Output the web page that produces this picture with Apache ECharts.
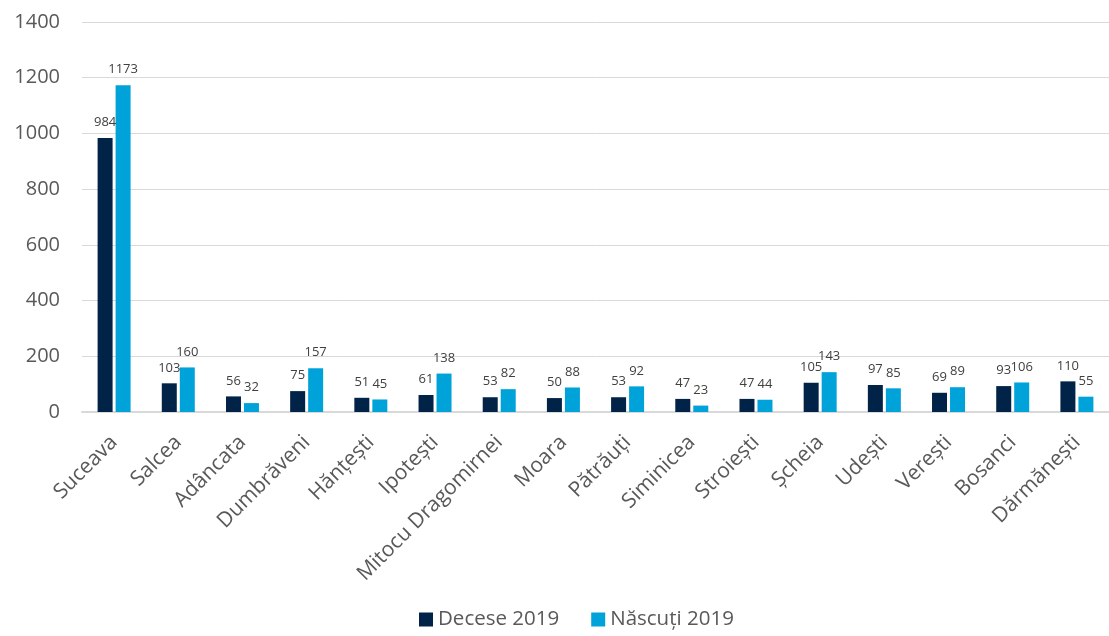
<!DOCTYPE html>
<html><head><meta charset="utf-8">
<script src="https://cdn.jsdelivr.net/npm/echarts@6/dist/echarts.min.js"></script>
<style>html,body{margin:0;padding:0;background:#fff}#c{width:1109px;height:636px}</style>
</head><body><div id="c"></div>
<script>
const categories = ["Suceava","Salcea","Adâncata","Dumbrăveni","Hănțești","Ipotești","Mitocu Dragomirnei","Moara","Pătrăuți","Siminicea","Stroiești","Șcheia","Udești","Verești","Bosanci","Dărmănești"];
const decese = [984,103,56,75,51,61,53,50,53,47,47,105,97,69,93,110];
const nascuti = [1173,160,32,157,45,138,82,88,92,23,44,143,85,89,106,55];
const yTicks = {min:0,max:1400,interval:200};
const chart = echarts.init(document.getElementById('c'));
const font = '"Open Sans", "Noto Sans", sans-serif';
chart.setOption({
  animation:false,
  textStyle:{fontFamily:font},
  grid:{left:82,right:-7,top:22,bottom:224},
  legend:{bottom:1,left:414,itemWidth:14,itemHeight:14,itemGap:32,icon:'rect',
    textStyle:{fontSize:20.5,color:'#595959',fontFamily:font},
    data:['Decese 2019','Născuți 2019']},
  xAxis:{type:'category',data:categories,
    axisLine:{lineStyle:{color:'#d9d9d9',width:2}},axisTick:{show:false},
    axisLabel:{rotate:45,fontSize:21,color:'#595959',margin:27,interval:0,fontFamily:font}},
  yAxis:{type:'value',min:yTicks.min,max:yTicks.max,interval:yTicks.interval,
    axisLine:{show:false},axisTick:{show:false},
    splitLine:{lineStyle:{color:'#d9d9d9',width:1}},
    axisLabel:{fontSize:20,color:'#595959',margin:22,fontFamily:font,formatter:v=>String(v)}},
  series:[
    {name:'Decese 2019',type:'bar',data:decese,barWidth:15,barGap:'20%',
     itemStyle:{color:'#002347'},
     label:{show:true,position:'top',fontSize:13,color:'#404040',distance:9,fontFamily:font}},
    {name:'Născuți 2019',type:'bar',data:nascuti,barWidth:15,
     itemStyle:{color:'#00A2DA'},
     label:{show:true,position:'top',fontSize:13,color:'#404040',distance:9,fontFamily:font}}
  ]
});
</script></body></html>
